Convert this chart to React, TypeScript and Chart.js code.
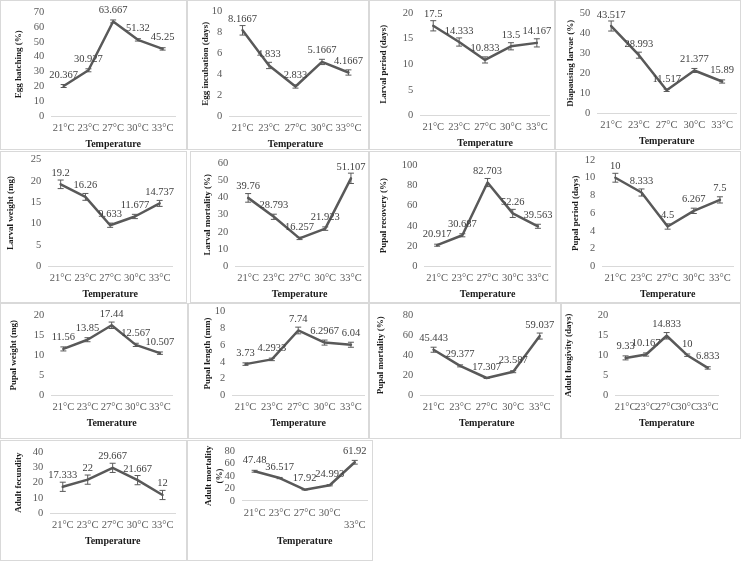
import { useEffect, useRef } from 'react';
import { Chart, registerables } from 'chart.js';

Chart.register(...registerables);

// categories
const temps = ['21°C', '23°C', '27°C', '30°C', '33°C'];
const tempsIncubation = ['21°C', '23°C', '27°C', '30°C', '33°°C'];
const tempsWrapped: (string | string[])[] = ['21°C', '23°C', '27°C', '30°C', ['', '33°C']];

// series values and error bars
const eggHatching = [20.367, 30.927, 63.667, 51.32, 45.25];
const eggHatchingErr = [1, 1, 1, 0.8, 0.8];
const eggIncubation = [8.1667, 4.833, 2.833, 5.1667, 4.1667];
const eggIncubationErr = [0.45, 0.3, 0.15, 0.25, 0.25];
const larvalPeriod = [17.5, 14.333, 10.833, 13.5, 14.167];
const larvalPeriodErr = [1, 0.8, 0.6, 0.7, 0.8];
const diapausingLarvae = [43.517, 28.993, 11.517, 21.377, 15.89];
const diapausingLarvaeErr = [2.5, 1.5, 0.6, 1, 0.8];
const larvalWeight = [19.2, 16.26, 9.633, 11.677, 14.737];
const larvalWeightErr = [1, 0.8, 0.5, 0.5, 0.7];
const larvalMortality = [39.76, 28.793, 16.257, 21.923, 51.107];
const larvalMortalityErr = [2.5, 1.5, 0.7, 1, 3];
const pupalRecovery = [20.917, 30.687, 82.703, 52.26, 39.563];
const pupalRecoveryErr = [1, 1.5, 4, 4, 2];
const pupalPeriod = [10, 8.333, 4.5, 6.267, 7.5];
const pupalPeriodErr = [0.5, 0.4, 0.3, 0.3, 0.35];
const pupalWeight = [11.56, 13.85, 17.44, 12.567, 10.507];
const pupalWeightErr = [0.5, 0.5, 0.8, 0.4, 0.3];
const pupalLength = [3.73, 4.2933, 7.74, 6.2967, 6.04];
const pupalLengthErr = [0.15, 0.15, 0.4, 0.3, 0.3];
const pupalMortality = [45.443, 29.377, 17.307, 23.587, 59.037];
const pupalMortalityErr = [2.5, 1, 0.5, 1, 3];
const adultLongivity = [9.33, 10.167, 14.833, 10, 6.833];
const adultLongivityErr = [0.5, 0.4, 0.8, 0.3, 0.3];
const adultFecundity = [17.333, 22, 29.667, 21.667, 12];
const adultFecundityErr = [3, 3, 3, 3, 3];
const adultMortality = [47.48, 36.517, 17.92, 24.993, 61.92];
const adultMortalityErr = [1.5, 1, 0.5, 1, 3];

// axis titles and y ranges, one entry per panel
const yTitles: (string | string[])[] = [
  'Egg hatching (%)', 'Egg incubation (days)', 'Larval period (days)', 'Diapausing larvae (%)',
  'Larval weight (mg)', 'Larval mortality (%)', 'Pupal recovery (%)', 'Pupal period (days)',
  'Pupal weight (mg)', 'Pupal length (mm)', 'Pupal mortality (%)', 'Adult longivity (days)',
  'Adult fecundity', ['Adult mortality', '(%)'],
];
const xTitles = [
  'Temperature', 'Temperature', 'Temperature', 'Temperature',
  'Temperature', 'Temperature', 'Temperature', 'Temperature',
  'Temerature', 'Temperature', 'Temperature', 'Temperature',
  'Temperature', 'Temperature',
];
const yMaxes = [70, 10, 20, 50, 25, 60, 100, 12, 20, 10, 80, 20, 40, 80];
const ySteps = [10, 2, 5, 10, 5, 10, 20, 2, 5, 2, 20, 5, 10, 20];

const seriesList = [
  eggHatching, eggIncubation, larvalPeriod, diapausingLarvae,
  larvalWeight, larvalMortality, pupalRecovery, pupalPeriod,
  pupalWeight, pupalLength, pupalMortality, adultLongivity,
  adultFecundity, adultMortality,
];
const errorList = [
  eggHatchingErr, eggIncubationErr, larvalPeriodErr, diapausingLarvaeErr,
  larvalWeightErr, larvalMortalityErr, pupalRecoveryErr, pupalPeriodErr,
  pupalWeightErr, pupalLengthErr, pupalMortalityErr, adultLongivityErr,
  adultFecundityErr, adultMortalityErr,
];
const categoryList = [
  temps, tempsIncubation, temps, temps,
  temps, temps, temps, temps,
  temps, temps, temps, temps,
  temps, tempsWrapped,
];

// panel boxes on the page: [left, top, width, height]
const boxes = [
  [0, 0, 187, 150], [187, 0, 182, 150], [369, 0, 186, 150], [555, 0, 186, 150],
  [0, 151, 187, 152], [190, 151, 179, 152], [369, 151, 187, 152], [556, 151, 185, 152],
  [0, 303, 188, 136], [188, 303, 181, 136], [369, 303, 192, 136], [561, 303, 180, 136],
  [0, 440, 187, 121], [187, 440, 186, 121],
];
// inner spacing per panel: [left, top, right, bottom, gap between y title and ticks]
const pads = [
  [12, 11, 11, 0, 3], [12, 10, 6, 0, -6], [8, 12, 3, 1, 7], [9, 12, 4, 3, -3],
  [4, 6, 14, 3, 8], [11, 11, 2, 3, -2], [8, 13, 2, 3, 6], [13, 8, 7, 3, -3],
  [7, 11, 15, 10, 8], [13, 5, 2, 10, -5], [5, 11, 7, 10, 10], [1, 11, 22, 10, 17],
  [12, 11, 11, 14, 2], [15, 10, 4, 14, -7],
];

const SERIF = '"Liberation Serif", "Times New Roman", serif';
const LINE = '#595959';

function Panel({ index }: { index: number }) {
  const canvasRef = useRef<HTMLCanvasElement>(null);

  useEffect(() => {
    if (!canvasRef.current) return;
    const values = seriesList[index];
    const errors = errorList[index];
    const [padLeft, padTop, padRight, padBottom, titleGap] = pads[index];

    const overlay = {
      id: 'errorsAndLabels',
      afterDatasetsDraw(chart: Chart) {
        const { ctx } = chart;
        const xs = chart.scales.x;
        const ys = chart.scales.y;
        ctx.save();
        ctx.strokeStyle = LINE;
        ctx.lineWidth = 1;
        values.forEach((v, i) => {
          const x = xs.getPixelForValue(i);
          const top = ys.getPixelForValue(v + errors[i]);
          const bot = ys.getPixelForValue(v - errors[i]);
          ctx.beginPath();
          ctx.moveTo(x, top);
          ctx.lineTo(x, bot);
          ctx.moveTo(x - 3, top);
          ctx.lineTo(x + 3, top);
          ctx.moveTo(x - 3, bot);
          ctx.lineTo(x + 3, bot);
          ctx.stroke();
        });
        ctx.fillStyle = '#404040';
        ctx.font = `10.5px ${SERIF}`;
        ctx.textAlign = 'center';
        ctx.textBaseline = 'bottom';
        values.forEach((v, i) => {
          const x = xs.getPixelForValue(i);
          const y = ys.getPixelForValue(v);
          ctx.fillText(String(v), x, y - 6);
        });
        ctx.restore();
      },
    };

    const chart = new Chart(canvasRef.current, {
      type: 'line',
      data: {
        labels: categoryList[index] as any,
        datasets: [{
          data: values,
          borderColor: LINE,
          borderWidth: 2.5,
          pointRadius: 0,
          tension: 0,
          borderJoinStyle: 'round',
          borderCapStyle: 'round',
        }],
      },
      options: {
        animation: false,
        responsive: true,
        maintainAspectRatio: false,
        layout: { padding: { left: padLeft, right: padRight, top: padTop, bottom: padBottom } },
        plugins: { legend: { display: false }, tooltip: { enabled: false } },
        scales: {
          x: {
            offset: true,
            grid: { display: false, drawTicks: false },
            border: { display: true, color: '#d9d9d9' },
            ticks: {
              font: { family: SERIF, size: 10.5 },
              color: LINE,
              maxRotation: 0,
              autoSkip: false,
              padding: 6,
            },
            title: {
              display: true,
              text: xTitles[index],
              font: { family: SERIF, size: 10, weight: 'bold', lineHeight: 1 },
              color: '#1a1a1a',
              padding: { top: -2, bottom: 0 },
            },
          },
          y: {
            min: 0,
            max: yMaxes[index],
            grid: { display: false, drawTicks: false },
            border: { display: false },
            ticks: {
              stepSize: ySteps[index],
              autoSkip: false,
              // small line height keeps the top label from forcing extra space above the plot
              font: { family: SERIF, size: 10.5, lineHeight: 0.1 },
              color: LINE,
              padding: 7,
            },
            title: {
              display: true,
              text: yTitles[index],
              font: { family: SERIF, size: 9, weight: 'bold' },
              color: '#1a1a1a',
              padding: { top: 0, bottom: titleGap },
            },
          },
        },
      },
      plugins: [overlay],
    });

    return () => {
      chart.destroy();
    };
  }, [index]);

  const [left, top, width, height] = boxes[index];
  return (
    <div
      style={{
        position: 'absolute',
        left,
        top,
        width,
        height,
        border: '1px solid #d9d9d9',
        boxSizing: 'border-box',
        background: '#fff',
      }}
    >
      <canvas ref={canvasRef}></canvas>
    </div>
  );
}

export default function App() {
  return (
    <div style={{ position: 'absolute', left: 0, top: 0, width: 745, height: 561, background: '#fff' }}>
      {seriesList.map((_, i) => (
        <Panel key={i} index={i} />
      ))}
    </div>
  );
}
